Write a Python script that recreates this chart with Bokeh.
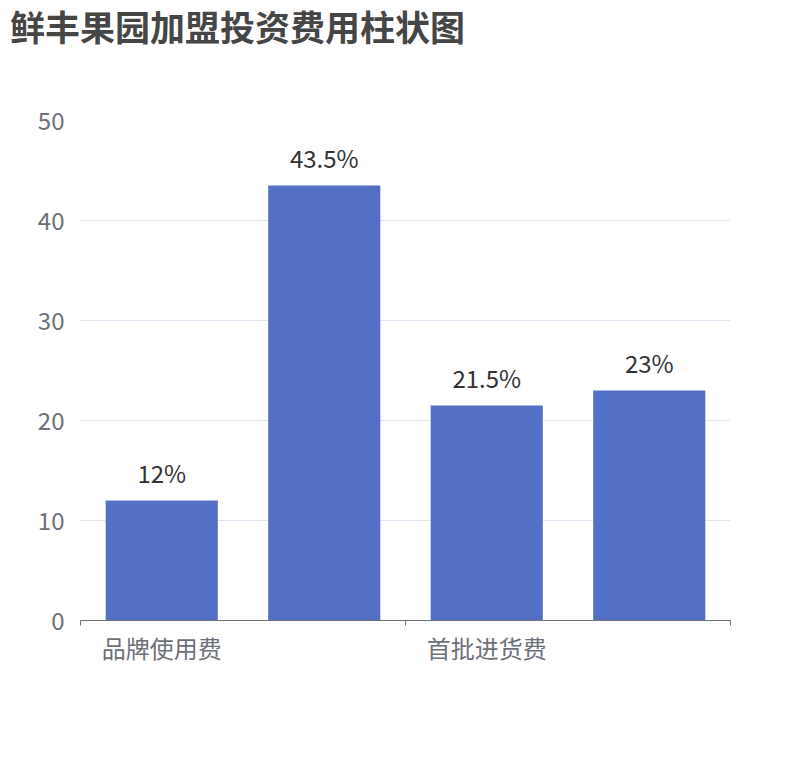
from bokeh.plotting import figure
from bokeh.models import ColumnDataSource, FixedTicker, Range1d, Div
from bokeh.layouts import column
from bokeh.embed import file_html
from bokeh.resources import INLINE
from bokeh.core.properties import value

title_text = "鲜丰果园加盟投资费用柱状图"
categories = ["品牌使用费", "加盟费", "首批进货费", "装修费"]
values = [12, 43.5, 21.5, 23]
y_ticks = [0, 10, 20, 30, 40, 50]
shown_label_index = [0, 2]

FONT = "Noto Sans CJK SC"

xs = [i + 0.5 for i in range(len(categories))]
labels = [f"{v:g}%" for v in values]
src = ColumnDataSource(dict(x=xs, top=values, label=labels))

title_div = Div(text=title_text, width=800, height=50,
                styles={"font-family": FONT, "font-size": "35px", "font-weight": "bold",
                        "color": "#464646", "padding-left": "10px", "line-height": "normal",
                        "white-space": "nowrap", "margin": "0"})

p = figure(width=800, height=700, output_backend="svg", toolbar_location=None,
           x_range=Range1d(0, len(categories)), y_range=Range1d(0, 50),
           min_border_left=80, min_border_right=70, min_border_top=70, min_border_bottom=130)
p.outline_line_color = None
p.background_fill_color = "white"
p.border_fill_color = "white"

p.vbar(x="x", top="top", width=0.69, bottom=0, source=src, color="#5470c6", line_color=None)
p.text(x="x", y="top", text="label", source=src, text_font=value(FONT), text_font_size="24px",
       text_color="#333333", text_align="center", text_baseline="alphabetic", y_offset=-28)

# y axis
p.yaxis.ticker = FixedTicker(ticks=y_ticks)
p.yaxis.axis_line_color = None
p.yaxis.major_tick_line_color = None
p.yaxis.minor_tick_line_color = None
p.yaxis.major_label_text_font = FONT
p.yaxis.major_label_text_font_size = "24px"
p.yaxis.major_label_text_color = "#6e7079"
p.yaxis.major_label_standoff = 10
p.ygrid.ticker = FixedTicker(ticks=y_ticks)
p.ygrid.grid_line_color = "#e0e6f1"
p.xgrid.grid_line_color = None

# x axis: labels at category centers (every other), tick marks at boundaries
label_pos = [xs[i] for i in shown_label_index]
p.xaxis.ticker = FixedTicker(ticks=label_pos, minor_ticks=[0, 2, 4])
p.xaxis.major_label_overrides = {xs[i]: categories[i] for i in shown_label_index}
p.xaxis.major_tick_out = 0
p.xaxis.major_tick_in = 0
p.xaxis.minor_tick_out = 5
p.xaxis.minor_tick_in = 0
p.xaxis.minor_tick_line_color = "#6e7079"
p.xaxis.axis_line_color = "#6e7079"
p.xaxis.major_label_text_font = FONT
p.xaxis.major_label_text_font_size = "24px"
p.xaxis.major_label_text_color = "#6e7079"
p.xaxis.major_label_standoff = 4

layout = column(title_div, p)
open("out.html", "w").write(file_html(layout, INLINE))
